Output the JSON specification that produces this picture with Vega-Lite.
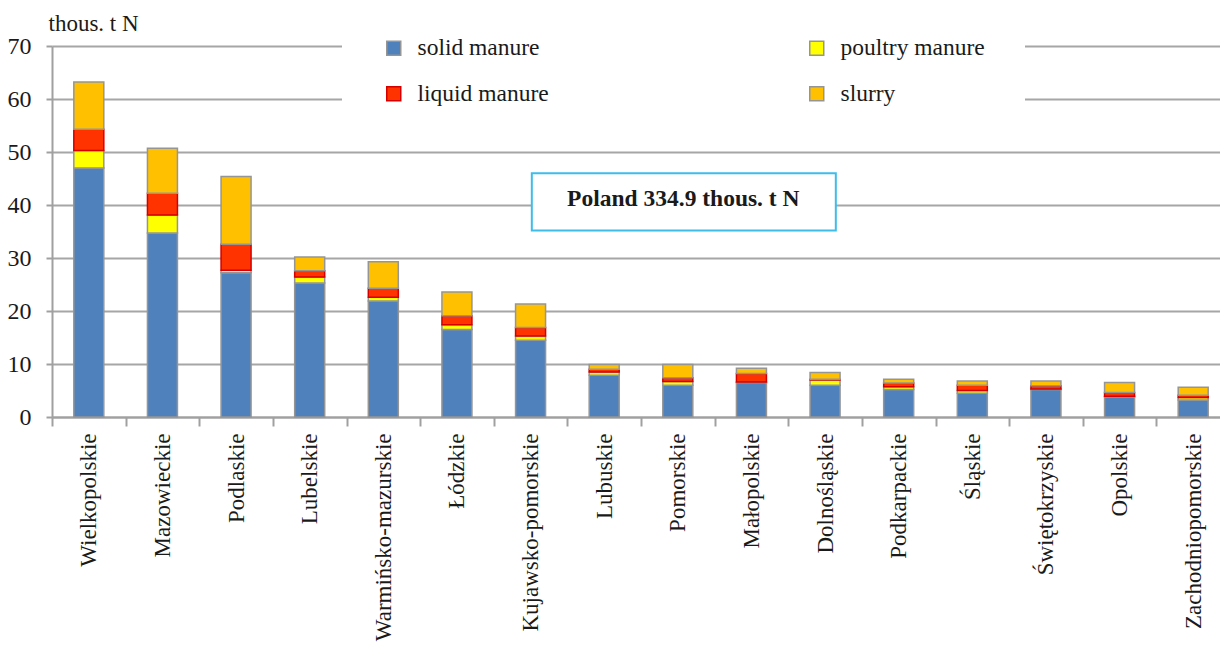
{
  "$schema": "https://vega.github.io/schema/vega-lite/v6.json",
  "width": 1168,
  "height": 371,
  "autosize": {"type": "none"},
  "padding": {"left": 52, "top": 46, "right": 0, "bottom": 229},
  "config": {
    "font": "Liberation Serif",
    "view": {"stroke": null},
    "axis": {"labelFont": "Liberation Serif", "titleFont": "Liberation Serif"},
    "legend": {"labelFont": "Liberation Serif", "titleFont": "Liberation Serif"},
    "text": {"font": "Liberation Serif"}
  },
  "data": {"values": [
    {"region": "Wielkopolskie", "type": "solid manure", "value": 47.0, "k": 1},
    {"region": "Wielkopolskie", "type": "poultry manure", "value": 3.3, "k": 2},
    {"region": "Wielkopolskie", "type": "liquid manure", "value": 4.0, "k": 3},
    {"region": "Wielkopolskie", "type": "slurry", "value": 8.9, "k": 4},
    {"region": "Mazowieckie", "type": "solid manure", "value": 34.7, "k": 1},
    {"region": "Mazowieckie", "type": "poultry manure", "value": 3.4, "k": 2},
    {"region": "Mazowieckie", "type": "liquid manure", "value": 4.1, "k": 3},
    {"region": "Mazowieckie", "type": "slurry", "value": 8.5, "k": 4},
    {"region": "Podlaskie", "type": "solid manure", "value": 27.2, "k": 1},
    {"region": "Podlaskie", "type": "poultry manure", "value": 0.5, "k": 2},
    {"region": "Podlaskie", "type": "liquid manure", "value": 4.9, "k": 3},
    {"region": "Podlaskie", "type": "slurry", "value": 12.8, "k": 4},
    {"region": "Lubelskie", "type": "solid manure", "value": 25.3, "k": 1},
    {"region": "Lubelskie", "type": "poultry manure", "value": 1.1, "k": 2},
    {"region": "Lubelskie", "type": "liquid manure", "value": 1.2, "k": 3},
    {"region": "Lubelskie", "type": "slurry", "value": 2.6, "k": 4},
    {"region": "Warmińsko-mazurskie", "type": "solid manure", "value": 21.9, "k": 1},
    {"region": "Warmińsko-mazurskie", "type": "poultry manure", "value": 0.7, "k": 2},
    {"region": "Warmińsko-mazurskie", "type": "liquid manure", "value": 1.7, "k": 3},
    {"region": "Warmińsko-mazurskie", "type": "slurry", "value": 5.0, "k": 4},
    {"region": "Łódzkie", "type": "solid manure", "value": 16.5, "k": 1},
    {"region": "Łódzkie", "type": "poultry manure", "value": 0.9, "k": 2},
    {"region": "Łódzkie", "type": "liquid manure", "value": 1.7, "k": 3},
    {"region": "Łódzkie", "type": "slurry", "value": 4.5, "k": 4},
    {"region": "Kujawsko-pomorskie", "type": "solid manure", "value": 14.5, "k": 1},
    {"region": "Kujawsko-pomorskie", "type": "poultry manure", "value": 0.8, "k": 2},
    {"region": "Kujawsko-pomorskie", "type": "liquid manure", "value": 1.6, "k": 3},
    {"region": "Kujawsko-pomorskie", "type": "slurry", "value": 4.4, "k": 4},
    {"region": "Lubuskie", "type": "solid manure", "value": 7.9, "k": 1},
    {"region": "Lubuskie", "type": "poultry manure", "value": 0.6, "k": 2},
    {"region": "Lubuskie", "type": "liquid manure", "value": 0.5, "k": 3},
    {"region": "Lubuskie", "type": "slurry", "value": 0.9, "k": 4},
    {"region": "Pomorskie", "type": "solid manure", "value": 6.0, "k": 1},
    {"region": "Pomorskie", "type": "poultry manure", "value": 0.7, "k": 2},
    {"region": "Pomorskie", "type": "liquid manure", "value": 0.7, "k": 3},
    {"region": "Pomorskie", "type": "slurry", "value": 2.5, "k": 4},
    {"region": "Małopolskie", "type": "solid manure", "value": 6.5, "k": 1},
    {"region": "Małopolskie", "type": "poultry manure", "value": 0.1, "k": 2},
    {"region": "Małopolskie", "type": "liquid manure", "value": 1.6, "k": 3},
    {"region": "Małopolskie", "type": "slurry", "value": 1.0, "k": 4},
    {"region": "Dolnośląskie", "type": "solid manure", "value": 6.0, "k": 1},
    {"region": "Dolnośląskie", "type": "poultry manure", "value": 1.0, "k": 2},
    {"region": "Dolnośląskie", "type": "liquid manure", "value": 0.1, "k": 3},
    {"region": "Dolnośląskie", "type": "slurry", "value": 1.3, "k": 4},
    {"region": "Podkarpackie", "type": "solid manure", "value": 5.2, "k": 1},
    {"region": "Podkarpackie", "type": "poultry manure", "value": 0.5, "k": 2},
    {"region": "Podkarpackie", "type": "liquid manure", "value": 0.7, "k": 3},
    {"region": "Podkarpackie", "type": "slurry", "value": 0.7, "k": 4},
    {"region": "Śląskie", "type": "solid manure", "value": 4.5, "k": 1},
    {"region": "Śląskie", "type": "poultry manure", "value": 0.5, "k": 2},
    {"region": "Śląskie", "type": "liquid manure", "value": 1.0, "k": 3},
    {"region": "Śląskie", "type": "slurry", "value": 0.8, "k": 4},
    {"region": "Świętokrzyskie", "type": "solid manure", "value": 5.2, "k": 1},
    {"region": "Świętokrzyskie", "type": "poultry manure", "value": 0.1, "k": 2},
    {"region": "Świętokrzyskie", "type": "liquid manure", "value": 0.6, "k": 3},
    {"region": "Świętokrzyskie", "type": "slurry", "value": 0.9, "k": 4},
    {"region": "Opolskie", "type": "solid manure", "value": 3.8, "k": 1},
    {"region": "Opolskie", "type": "poultry manure", "value": 0.1, "k": 2},
    {"region": "Opolskie", "type": "liquid manure", "value": 0.7, "k": 3},
    {"region": "Opolskie", "type": "slurry", "value": 1.9, "k": 4},
    {"region": "Zachodniopomorskie", "type": "solid manure", "value": 3.2, "k": 1},
    {"region": "Zachodniopomorskie", "type": "poultry manure", "value": 0.5, "k": 2},
    {"region": "Zachodniopomorskie", "type": "liquid manure", "value": 0.4, "k": 3},
    {"region": "Zachodniopomorskie", "type": "slurry", "value": 1.5, "k": 4}
  ]},
  "layer": [
    {
      "mark": {"type": "bar", "width": 30, "strokeWidth": 1.5},
      "encoding": {
        "x": {
          "field": "region", "type": "nominal", "sort": null,
          "scale": {
            "domain": ["Wielkopolskie", "Mazowieckie", "Podlaskie", "Lubelskie", "Warmińsko-mazurskie", "Łódzkie", "Kujawsko-pomorskie", "Lubuskie", "Pomorskie", "Małopolskie", "Dolnośląskie", "Podkarpackie", "Śląskie", "Świętokrzyskie", "Opolskie", "Zachodniopomorskie"],
            "range": [0, 1178], "paddingInner": 0, "paddingOuter": 0
          },
          "axis": {
            "title": null, "labelAngle": -90, "labelFont": "Liberation Serif", "labelFontSize": 23, "labelColor": "#1a1a1a",
            "labelPadding": 7, "labelLimit": 400, "labelOverlap": false,
            "tickSize": 9, "tickBand": "extent", "tickColor": "#a0a0a0", "tickWidth": 2,
            "domainColor": "#a0a0a0", "domainWidth": 2, "grid": false
          }
        },
        "y": {
          "field": "value", "type": "quantitative", "stack": "zero",
          "scale": {"domain": [0, 70], "nice": false},
          "axis": {
            "title": "thous. t N", "titleAngle": 0, "titleAlign": "left", "titleBaseline": "alphabetic",
            "titleX": -4, "titleY": -16, "titleFont": "Liberation Serif", "titleFontSize": 23, "titleFontWeight": "normal", "titleColor": "#1a1a1a",
            "values": [0, 10, 20, 30, 40, 50, 60, 70],
            "labelFont": "Liberation Serif", "labelFontSize": 24, "labelColor": "#1a1a1a", "labelPadding": 15,
            "tickSize": 6, "tickColor": "#a0a0a0", "tickWidth": 2,
            "domainColor": "#a0a0a0", "domainWidth": 2,
            "grid": true, "gridColor": "#a6a6a6", "gridWidth": 2
          }
        },
        "color": {
          "field": "type", "type": "nominal",
          "scale": {
            "domain": ["solid manure", "liquid manure", "poultry manure", "slurry"],
            "range": ["#4F81BD", "#FF3300", "#FFFF00", "#FFC000"]
          },
          "legend": {
            "title": null, "orient": "none", "legendX": 290, "legendY": -50,
            "columns": 2, "columnPadding": 256, "rowPadding": 21, "padding": 40,
            "fillColor": "white", "strokeColor": null,
            "symbolType": "square", "symbolSize": 196, "symbolStrokeWidth": 1.5,
            "labelFont": "Liberation Serif", "labelFontSize": 23.5, "labelColor": "#1a1a1a", "labelOffset": 12, "labelLimit": 400
          }
        },
        "stroke": {
          "field": "type", "type": "nominal",
          "scale": {
            "domain": ["solid manure", "liquid manure", "poultry manure", "slurry"],
            "range": ["#959595", "#D40000", "#959595", "#959595"]
          }
        },
        "order": {"field": "k", "type": "quantitative"}
      }
    },
    {
      "data": {"values": [{"label": "Poland 334.9 thous. t N"}]},
      "mark": {"type": "bar", "width": 304, "xOffset": 6, "fill": "white", "stroke": "#3EBDEB", "strokeWidth": 2},
      "encoding": {
        "x": {"datum": "Pomorskie"},
        "y": {"datum": 35.2},
        "y2": {"datum": 46.0}
      }
    },
    {
      "data": {"values": [{"label": "Poland 334.9 thous. t N"}]},
      "mark": {"type": "text", "font": "Liberation Serif", "fontSize": 23.5, "fontWeight": "bold", "color": "#1a1a1a", "align": "center", "baseline": "middle"},
      "encoding": {
        "x": {"datum": "Pomorskie", "bandPosition": 0.575},
        "y": {"datum": 41.1},
        "text": {"field": "label"}
      }
    }
  ]
}
